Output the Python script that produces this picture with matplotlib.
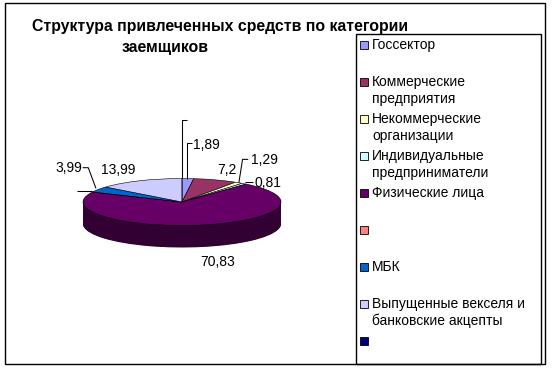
import matplotlib
matplotlib.use('Agg')
import matplotlib.pyplot as plt
import matplotlib.colors as mcolors
from matplotlib.patches import Rectangle
import numpy as np

# Данные диаграммы
categories = ['Госсектор', 'Коммерческие\nпредприятия', 'Некоммерческие\nорганизации',
              'Индивидуальные\nпредприниматели', 'Физические лица', '', 'МБК',
              'Выпущенные векселя и\nбанковские акцепты', '']
values = [1.89, 7.2, 1.29, 0.81, 70.83, 0, 3.99, 13.99, 0]
value_labels = ['1,89', '7,2', '1,29', '0,81', '70,83', '', '3,99', '13,99', '']
colors = ['#9999FF', '#993366', '#FFFFCC', '#CCFFFF', '#660066',
          '#FF8080', '#0066CC', '#CCCCFF', '#000080']
title_lines = ['Структура привлеченных средств по категории', 'заемщиков']

FONT = 'Liberation Sans'
W, H = 552, 371
# geometry of the 3D pie in pixels (image coords, y down)
CX, CY = 182, 202
RX, RY = 99, 23.5
DEPTH = 22

# label offsets from the slice rim point (pixels, y up) and alignment
label_pos = [(5, 34, 'left'), (11, 10, 'center'), (11.7, 23, 'left'), (10, 0.4, 'left'),
             (14.5, -37, 'center'), (0, 0, 'center'), (-16.8, 21.4, 'right'),
             (-21.7, 11, 'center'), (0, 0, 'center')]
leaders = [[(-1, 0), (-1, 35.3), (3.7, 35.3)], None, [(0, 0), (3.7, 23.4), (9.3, 23.4)],
           [(1, 2), (9, 2)], None, [(-0.5, 1.3), (-15.5, 1.3)],
           [(-2.5, 1), (-10.2, 21.7), (-15.8, 21.7)], None,
           [(0, 0), (0, 58.5), (5, 58.5)]]


def fx(x):
    return x / W


def fy(y):
    return 1 - y / H


fig = plt.figure(figsize=(W / 100, H / 100), dpi=100)
fig.patch.set_facecolor('white')

ax = fig.add_axes([0, 0, 1, 1])

side_colors = [tuple(np.array(mcolors.to_rgb(c)) * 0.5) for c in colors]
depth_u = DEPTH / RY
for d in np.linspace(depth_u, 0, 40, endpoint=False):
    ax.pie(values, colors=side_colors, startangle=90, counterclock=False,
           center=(0, -d), radius=1, wedgeprops=dict(linewidth=0), frame=False)
ax.pie(values, colors=colors, startangle=90, counterclock=False,
       center=(0, 0), radius=1, wedgeprops=dict(linewidth=0.4, edgecolor='#000000'),
       frame=False)

ax.set_aspect('auto')
ax.set_xlim(-CX / RX, (W - CX) / RX)
ax.set_ylim(-(H - CY) / RY, CY / RY)
ax.axis('off')

# data labels with leader lines
total = sum(values)
cum = np.cumsum(values)
for i, v in enumerate(values):
    theta = np.deg2rad(360 * (cum[i] - v / 2) / total)
    rx, ry = np.sin(theta), np.cos(theta)
    dx, dy, ha = label_pos[i]
    if value_labels[i]:
        ax.text(rx + dx / RX, ry + dy / RY, value_labels[i], ha=ha, va='center',
                fontsize=10, family=FONT, color='black')
    if leaders[i]:
        xs = [rx + p[0] / RX for p in leaders[i]]
        ys = [ry + p[1] / RY for p in leaders[i]]
        ax.plot(xs, ys, color='black', lw=0.75, solid_capstyle='butt')

# title
fig.text(fx(220.5), fy(31), title_lines[0], ha='center', va='baseline',
         fontsize=11.4, fontweight='bold', family=FONT)
fig.text(fx(165), fy(52), title_lines[1], ha='center', va='baseline',
         fontsize=11.4, fontweight='bold', family=FONT)

# outer border and legend box
fig.patches.append(Rectangle((fx(5), fy(364)), fx(540), 361 / H, transform=fig.transFigure,
                             fill=False, edgecolor='black', lw=1))
fig.patches.append(Rectangle((fx(356), fy(364)), fx(185), 330 / H, transform=fig.transFigure,
                             fill=False, edgecolor='black', lw=1))

# legend entries
for i, (name, c) in enumerate(zip(categories, colors)):
    y0 = 45 + i * 37
    fig.patches.append(Rectangle((fx(360), fy(y0 + 4)), fx(8), 8 / H, transform=fig.transFigure,
                                 facecolor=c, edgecolor='black', lw=0.6))
    for j, line in enumerate(name.split('\n')):
        fig.text(fx(372), fy(y0 + j * 17), line, ha='left', va='center',
                 fontsize=10, family=FONT)

fig.savefig('out.png', dpi=100)
